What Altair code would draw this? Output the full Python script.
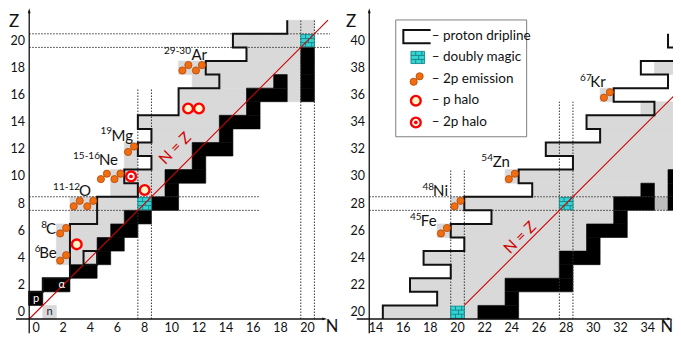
import altair as alt
import pandas as pd

# ---------------- data ----------------
# Left panel (Z 0..21). Grey = known nuclei (inclusive N ranges), black = stable.
L_GREY = {0: [(1, 1)], 4: [(2, 4)], 5: [(2, 4)], 6: [(2, 5)], 7: [(3, 6)], 8: [(3, 7)],
          9: [(6, 9)], 10: [(6, 9)], 11: [(7, 7), (9, 11)], 12: [(7, 11)], 13: [(9, 13)],
          14: [(8, 13)], 15: [(11, 15)], 16: [(11, 15), (19, 19)], 17: [(12, 17), (19, 19)],
          18: [(11, 19)], 19: [(16, 19)], 20: [(15, 19)], 21: [(19, 20)]}
L_BLACK = {1: [(0, 0)], 2: [(1, 2)], 3: [(3, 4)], 4: [(5, 5)], 5: [(5, 6)], 6: [(6, 7)],
           7: [(7, 8)], 8: [(9, 10)], 9: [(10, 10)], 10: [(10, 12)], 11: [(12, 12)],
           12: [(12, 14)], 13: [(14, 14)], 14: [(14, 16)], 15: [(16, 16)],
           16: [(16, 18), (20, 20)], 17: [(18, 18), (20, 20)], 18: [(20, 20)], 19: [(20, 20)]}
L_MAGIC = [(8, 8), (20, 20)]
L_DRIP_Z0 = 1
L_DRIP_N = [-0.5, 0.5, 2.5, 2.5, 2.5, 2.5, 4.5, 4.5, 7.5, 6.5, 8.5, 7.5, 8.5, 7.5,
            10.5, 10.5, 13.5, 12.5, 15.5, 14.5, 18.5]
L_BOX = [(4, 4)]                       # isolated unbound nucleus outlined (8Be)
L_2P = [(2, 4), (2, 6), (3, 8), (4, 8), (5, 10), (6, 10), (7, 12), (11, 18), (12, 18)]
L_PHALO = [(3, 5), (8, 9), (11.2, 15), (12, 15)]
L_2PHALO = [(7, 10)]

# Right panel (Z 20..40)
R_GREY = {20: [(15, 19), (21, 21)], 21: [(19, 23)], 22: [(17, 23)], 23: [(20, 27)],
          24: [(18, 27)], 25: [(21, 29)], 26: [(19, 29)], 27: [(23, 31)],
          28: [(20, 27), (29, 31)], 29: [(26, 33), (35, 35)], 30: [(24, 35)],
          31: [(29, 36)], 32: [(27, 36)], 33: [(31, 36)], 34: [(30, 36)],
          35: [(34, 36)], 36: [(31, 31)], 38: [(35, 36)]}
R_BLACK = {20: [(22, 24)], 21: [(24, 24)], 22: [(24, 28)], 23: [(28, 28)], 24: [(28, 30)],
           25: [(30, 30)], 26: [(30, 32)], 27: [(32, 32)], 28: [(32, 34), (36, 36)],
           29: [(34, 34), (36, 36)], 30: [(36, 36)]}
R_DGREY = [(35, 28)]
R_MAGIC = [(20, 20), (28, 28)]
R_DRIP_Z0 = 20
R_DRIP_N = [14.5, 18.5, 16.5, 19.5, 17.5, 20.5, 19.5, 22.5, 20.5, 25.5, 24.5, 28.5,
            26.5, 30.5, 29.5, 34.5, 31.5, 35.5, 33.5, 37.5, 35.5]
R_2P = [(19, 26), (20, 28), (24, 30), (31, 36)]

# nucleus labels: panel, mass, element, N of element right edge, N of mass right edge, Z
LBL_PANEL = ["L", "L", "L", "L", "L", "L", "R", "R", "R", "R"]
LBL_MASS = ["6", "8", "11-12", "15-16", "19", "29-30", "45", "48", "54", "67"]
LBL_EL = ["Be", "C", "O", "Ne", "Mg", "Ar", "Fe", "Ni", "Zn", "Kr"]
LBL_NEL = [1.52, 1.47, 4.05, 6.04, 7.14, 12.59, 18.46, 19.30, 23.86, 30.91]
LBL_NMASS = [0.33, 0.81, 3.24, 4.71, 5.60, 11.41, 17.36, 18.27, 22.61, 29.88]
LBL_Z = [4.36, 6.13, 8.92, 11.21, 13.01, 18.94, 26.72, 28.93, 31.03, 36.92]

L_XTICKS = list(range(0, 21, 2))
L_YTICKS = list(range(0, 21, 2))
R_XTICKS = list(range(14, 35, 2))
R_YTICKS = list(range(20, 41, 2))

LEGEND_TEXT = ["– proton dripline", "– doubly magic", "– 2p emission", "– p halo", "– 2p halo"]

# ---------------- geometry helpers ----------------
OFF = {"L": (0.0, 0.0), "R": (11.04, 20.0)}   # right panel drawn beside the left one
W, H = 665, 327
PX = 13.58
U0 = -2.062
Z1 = 22.401
U1 = U0 + W / PX
Z0 = Z1 - H / PX
XS = alt.Scale(domain=[U0, U1], nice=False, zero=False)
YS = alt.Scale(domain=[Z0, Z1], nice=False, zero=False)


def P(panel, n, z):
    du, dz = OFF[panel]
    return n + du, z - dz


def X(f):
    return alt.X(f, type="quantitative", scale=XS, axis=None)


def Y(f):
    return alt.Y(f, type="quantitative", scale=YS, axis=None)


def rect_rows(panel, table):
    out = []
    for z, ranges in table.items():
        for a, b in ranges:
            u1, zz = P(panel, a - 0.5, z)
            u2, _ = P(panel, b + 0.5, z)
            out.append(dict(u1=u1, u2=u2, z1=zz - 0.5, z2=zz + 0.5))
    return out


grey_df = pd.DataFrame(rect_rows("L", L_GREY) + rect_rows("R", R_GREY))
black_df = pd.DataFrame(rect_rows("L", L_BLACK) + rect_rows("R", R_BLACK))
dgrey_df = pd.DataFrame(rect_rows("R", {z: [(n, n)] for n, z in R_DGREY}))

# magic cells (+ legend icon)
mag_cent = [P("L", n, z) for n, z in L_MAGIC] + [P("R", n, z) for n, z in R_MAGIC] + [(28.11, 18.76)]
mag_df = pd.DataFrame([dict(u1=u - 0.5, u2=u + 0.5, z1=z - 0.45, z2=z + 0.45) for u, z in mag_cent])
brick = []
for u, z in mag_cent:
    for h in (-0.15, 0.15):
        brick.append(dict(u1=u - 0.5, u2=u + 0.5, z1=z + h, z2=z + h))
    for du, za, zb in [(-0.15, 0.15, 0.45), (0.3, 0.15, 0.45), (0.07, -0.15, 0.15),
                       (-0.15, -0.45, -0.15), (0.3, -0.45, -0.15)]:
        brick.append(dict(u1=u + du, u2=u + du, z1=z + za, z2=z + zb))
brick_df = pd.DataFrame(brick)

# dotted magic-number guide lines
dots_rules = []
for b in (7.5, 8.5):
    dots_rules.append(dict(u1=b, u2=b, z1=-0.5, z2=16.5))
    dots_rules.append(dict(u1=-0.5, u2=16.5, z1=b, z2=b))
for b in (19.5, 20.5):
    dots_rules.append(dict(u1=b, u2=b, z1=-0.5, z2=21.5))
    dots_rules.append(dict(u1=-0.5, u2=21.65, z1=b, z2=b))
for b, top in ((19.5, 30.5), (20.5, 30.5), (27.5, 35.5), (28.5, 35.5)):
    u, za = P("R", b, 19.5)
    _, zb = P("R", b, top)
    dots_rules.append(dict(u1=u, u2=u, z1=za, z2=zb))
for b in (27.5, 28.5):
    ua, z = P("R", 13.5, b)
    ub, _ = P("R", 35.5, b)
    dots_rules.append(dict(u1=ua, u2=ub, z1=z, z2=z))
dots_df = pd.DataFrame(dots_rules)

# N = Z lines
nz = []
for panel, a, b in (("L", -0.5, 21.5), ("R", 20.5, 36.3)):
    u1, z1 = P(panel, a, a)
    u2, z2 = P(panel, b, b)
    nz.append(dict(u1=u1, u2=u2, z1=z1, z2=z2))
nz_df = pd.DataFrame(nz)

# dripline paths
path = []
seg = 0
for panel, z0, ns in (("L", L_DRIP_Z0, L_DRIP_N), ("R", R_DRIP_Z0, R_DRIP_N)):
    o = 0
    for i, b in enumerate(ns):
        for dz in (-0.5, 0.5):
            u, z = P(panel, min(b, 36.4), z0 + i + dz)
            path.append(dict(u=u, z=z, o=o, s=seg))
            o += 1
    seg += 1
for n, z in L_BOX:
    for o, (dn, dz) in enumerate([(-0.5, -0.5), (0.5, -0.5), (0.5, 0.5), (-0.5, 0.5), (-0.5, -0.5)]):
        u, zz = P("L", n + dn, z + dz)
        path.append(dict(u=u, z=zz, o=o, s=seg))
    seg += 1
# legend icon for dripline
for o, (u, z) in enumerate([(29.06, 20.78), (27.05, 20.78), (27.05, 19.80), (29.06, 19.80)]):
    path.append(dict(u=u, z=z, o=o, s=seg))
path_df = pd.DataFrame(path)

# 2p emission dot pairs
pair = []
for panel, lst in (("L", L_2P), ("R", R_2P)):
    for n, z in lst:
        u, zz = P(panel, n, z)
        pair.append(dict(u=u - 0.22, z=zz - 0.2))
        pair.append(dict(u=u + 0.22, z=zz + 0.2))
pair.append(dict(u=28.03 - 0.22, z=17.17 - 0.2))
pair.append(dict(u=28.03 + 0.22, z=17.17 + 0.2))
pair_df = pd.DataFrame(pair)

phalo_df = pd.DataFrame([dict(u=n, z=z) for n, z in L_PHALO] + [dict(u=27.97, z=15.57)])
twop_df = pd.DataFrame([dict(u=n, z=z) for n, z in L_2PHALO] + [dict(u=27.97, z=13.97)])

# nucleus labels
lab = []
for i in range(len(LBL_EL)):
    ue, ze = P(LBL_PANEL[i], LBL_NEL[i], LBL_Z[i])
    um, _ = P(LBL_PANEL[i], LBL_NMASS[i], LBL_Z[i])
    lab.append(dict(ue=ue, um=um, z=ze, zm=ze + 0.3, el=LBL_EL[i], m=LBL_MASS[i]))
lab_df = pd.DataFrame(lab)

# tick labels (x labels sit on the bottom edge of the drawing)
TZ = Z0
tx = [dict(u=P("L", n, 0)[0], z=TZ, t=str(n)) for n in L_XTICKS] + \
     [dict(u=P("R", n, 0)[0], z=TZ, t=str(n)) for n in R_XTICKS]
ty = [dict(u=-0.81, z=z, t=str(z)) for z in L_YTICKS] + \
     [dict(u=24.23, z=P("R", 0, z)[1], t=str(z)) for z in R_YTICKS]
tx_df = pd.DataFrame(tx)
ty_df = pd.DataFrame(ty)
zlab_df = pd.DataFrame([dict(u=-1.62, z=21.36, t="Z"), dict(u=23.2, z=21.36, t="Z")])
nlab_df = pd.DataFrame([dict(u=21.8, z=Z0, t="N"), dict(u=46.45, z=Z0, t="N")])

# axes lines and arrow heads
axes_df = pd.DataFrame([dict(u1=-0.5, u2=-0.5, z1=-1.55, z2=22.2),
                        dict(u1=-1.47, u2=21.2, z1=-0.5, z2=-0.5),
                        dict(u1=24.54, u2=24.54, z1=-1.55, z2=22.2),
                        dict(u1=23.62, u2=46.6, z1=-0.5, z2=-0.5)])
aup_df = pd.DataFrame([dict(u=-0.5, z=22.38), dict(u=24.54, z=22.38)])
art_df = pd.DataFrame([dict(u=21.45, z=-0.5), dict(u=46.86, z=-0.5)])

nzt_df = pd.DataFrame([dict(u=10.24, z=12.07), dict(u=P("R", 24.6, 25.5)[0], z=P("R", 24.6, 25.5)[1])])
pna_df = pd.DataFrame([dict(u=0, z=1, t="p", c="white"), dict(u=1, z=0, t="n", c="#222222"),
                       dict(u=1.9, z=2, t="α", c="white")])
leg_df = pd.DataFrame([dict(u1=26.49, u2=36.13, z1=12.92, z2=21.52)])
legt_df = pd.DataFrame(dict(u=[29.14] * 5, z=[20.34, 18.76, 17.17, 15.63, 14.01], t=LEGEND_TEXT))

GREY = "#d9d9d9"
RED = "#d00000"
FONT = "Lato"


def rects(df, **kw):
    return alt.Chart(df).mark_rect(**kw).encode(x=X("u1"), x2="u2", y=Y("z1"), y2="z2")


def rules(df, **kw):
    return alt.Chart(df).mark_rule(**kw).encode(x=X("u1"), x2="u2", y=Y("z1"), y2="z2")


def texts(df, size, align, baseline, **kw):
    return alt.Chart(df).mark_text(font=FONT, fontSize=size, align=align, baseline=baseline,
                                   color="#111111", **kw).encode(x=X("u"), y=Y("z"), text="t:N")


layers = [
    rects(grey_df, color=GREY, stroke=GREY, strokeWidth=0.6),
    rects(dgrey_df, color="#bdbdbd"),
    rects(black_df, color="black", stroke="black", strokeWidth=0.6),
    rules(dots_df, color="#333333", strokeWidth=1, strokeDash=[1.5, 1.5]),
    rects(leg_df, fill="white", stroke="#7f7f7f", strokeWidth=1),
    rects(mag_df, color="#35d3d3", stroke="#0c7c7c", strokeWidth=0.8),
    rules(brick_df, color="#0c7c7c", strokeWidth=0.8),
    rules(nz_df, color=RED, strokeWidth=1.1),
    alt.Chart(path_df).mark_line(color="#111111", strokeWidth=2, strokeJoin="miter").encode(
        x=X("u"), y=Y("z"), order="o:Q", detail="s:N"),
    alt.Chart(pair_df).mark_point(shape="circle", filled=True, size=52, color="#f26c10",
                                  stroke="#b04a08", strokeWidth=0.8, opacity=1).encode(x=X("u"), y=Y("z")),
    alt.Chart(phalo_df).mark_point(shape="circle", filled=True, size=95, fill="#fff4c8",
                                   stroke="#ff0000", strokeWidth=2.4, opacity=1).encode(x=X("u"), y=Y("z")),
    alt.Chart(twop_df).mark_point(shape="circle", filled=True, size=95, fill="#ffffff",
                                  stroke="#ff0000", strokeWidth=2.4, opacity=1).encode(x=X("u"), y=Y("z")),
    alt.Chart(twop_df).mark_point(shape="circle", filled=True, size=14, color="#ff0000",
                                  opacity=1).encode(x=X("u"), y=Y("z")),
    alt.Chart(lab_df).mark_text(font=FONT, fontSize=15, align="right", baseline="middle",
                                color="#111111").encode(x=X("ue"), y=Y("z"), text="el:N"),
    alt.Chart(lab_df).mark_text(font=FONT, fontSize=10, align="right", baseline="middle",
                                color="#111111").encode(x=X("um"), y=Y("zm"), text="m:N"),
    alt.Chart(pna_df).mark_text(font=FONT, fontSize=11, align="center", baseline="middle").encode(
        x=X("u"), y=Y("z"), text="t:N", color=alt.Color("c:N", scale=None)),
    alt.Chart(nzt_df).mark_text(font=FONT, fontSize=15.5, angle=315, color=RED, align="center",
                                baseline="middle").encode(x=X("u"), y=Y("z"), text=alt.value("N = Z")),
    texts(legt_df, 13.5, "left", "middle"),
    texts(tx_df, 12.5, "center", "bottom"),
    texts(ty_df, 12.5, "right", "middle"),
    texts(zlab_df, 17, "center", "middle"),
    texts(nlab_df, 16.5, "center", "bottom"),
    rules(axes_df, color="#111111", strokeWidth=1.3),
    alt.Chart(aup_df).mark_point(shape="M0,0L0.55,2L-0.55,2Z", filled=True, size=25,
                                 color="#111111", opacity=1).encode(x=X("u"), y=Y("z")),
    alt.Chart(art_df).mark_point(shape="M0,0L-2,-0.55L-2,0.55Z", filled=True, size=25,
                                 color="#111111", opacity=1).encode(x=X("u"), y=Y("z")),
]

chart = alt.layer(*layers).properties(
    width=W, height=H, padding=0, autosize=alt.AutoSizeParams(type="none"),
    background="white"
).configure_view(stroke=None)

chart.save("out.html", embed_options={"renderer": "svg", "actions": False})
